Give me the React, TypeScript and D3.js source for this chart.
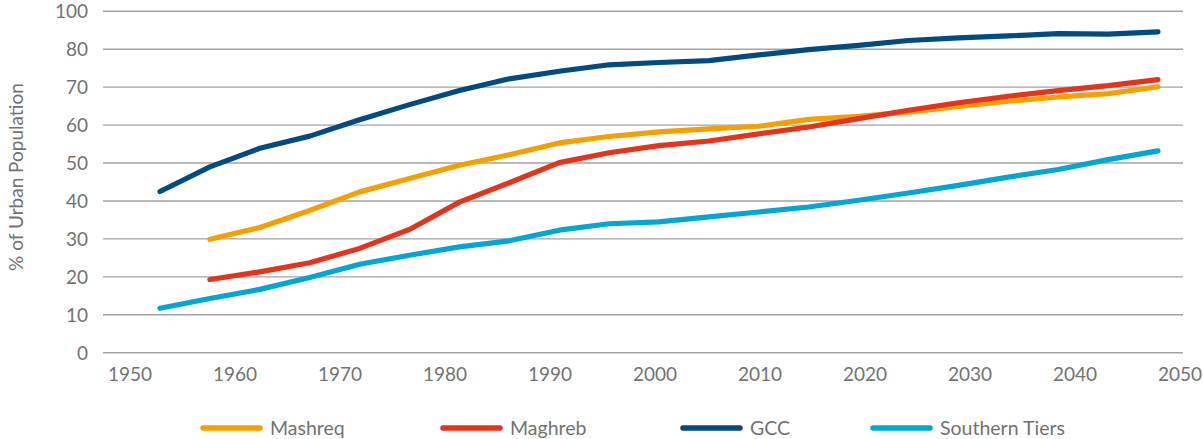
import React, { useEffect, useRef } from "react";
import * as d3 from "d3";

const years = [1950, 1955, 1960, 1965, 1970, 1975, 1980, 1985, 1990, 1995, 2000, 2005, 2010, 2015, 2020, 2025, 2030, 2035, 2040, 2045, 2050];
const mashreq = [null, 29.9, 33.0, 37.5, 42.4, 45.9, 49.4, 52.2, 55.3, 57.0, 58.2, 59.0, 59.7, 61.5, 62.3, 63.4, 64.9, 66.3, 67.4, 68.3, 70.1];
const maghreb = [null, 19.3, 21.3, 23.7, 27.5, 32.5, 39.7, 44.8, 50.1, 52.7, 54.6, 55.8, 57.7, 59.5, 61.7, 63.9, 65.9, 67.6, 69.1, 70.4, 72.0];
const gcc = [42.5, 49.0, 53.9, 57.1, 61.4, 65.4, 69.1, 72.2, 74.2, 75.9, 76.5, 77.0, 78.5, 79.9, 81.0, 82.3, 83.0, 83.5, 84.1, 84.0, 84.6];
const southern = [11.7, 14.3, 16.7, 19.8, 23.3, 25.7, 27.9, 29.5, 32.3, 34.0, 34.5, 35.8, 37.1, 38.4, 40.2, 42.1, 44.1, 46.3, 48.3, 50.9, 53.2];

const xTickYears = [1950, 1960, 1970, 1980, 1990, 2000, 2010, 2020, 2030, 2040, 2050];
const yTickValues = [0, 10, 20, 30, 40, 50, 60, 70, 80, 90];
const yTickLabels = ["0", "10", "20", "30", "40", "50", "60", "70", "80", "100"];

const seriesNames = ["Mashreq", "Maghreb", "GCC", "Southern Tiers"];
const seriesColors = ["#F5A000", "#E6341C", "#004B84", "#00A6D7"];

export default function App() {
  const ref = useRef<SVGSVGElement>(null);

  useEffect(() => {
    const svg = d3.select(ref.current);
    svg.selectAll("*").remove();
    const font = "Lato, 'Open Sans', sans-serif";
    const textColor = "#737373";

    const xData = d3.scaleLinear().domain([1950, 2050]).range([160, 1158]);
    const xLabel = d3.scaleLinear().domain([1950, 2050]).range([130, 1180]);
    const y = d3.scaleLinear().domain([0, 90]).range([352.7, 11.3]);

    svg.append("g")
      .selectAll("line")
      .data(yTickValues)
      .join("line")
      .attr("x1", 103)
      .attr("x2", 1183)
      .attr("y1", (d) => y(d))
      .attr("y2", (d) => y(d))
      .attr("stroke", "#a3a3a3")
      .attr("stroke-width", 1.4);

    svg.append("g")
      .selectAll("text")
      .data(yTickValues)
      .join("text")
      .attr("x", 88)
      .attr("y", (d) => y(d))
      .attr("dy", "0.36em")
      .attr("text-anchor", "end")
      .attr("font-family", font)
      .attr("font-size", 19)
      .attr("fill", textColor)
      .text((d, i) => yTickLabels[i]);

    svg.append("g")
      .selectAll("text")
      .data(xTickYears)
      .join("text")
      .attr("x", (d) => xLabel(d))
      .attr("y", 381)
      .attr("text-anchor", "middle")
      .attr("font-family", font)
      .attr("font-size", 19)
      .attr("fill", textColor)
      .text((d) => String(d));

    svg.append("text")
      .attr("transform", "translate(23,177) rotate(-90)")
      .attr("text-anchor", "middle")
      .attr("font-family", font)
      .attr("font-size", 19)
      .attr("fill", textColor)
      .text("% of Urban Population");

    const allSeries = [mashreq, maghreb, gcc, southern];
    const line = d3.line<[number, number | null]>()
      .defined((d) => d[1] != null)
      .x((d) => xData(d[0]))
      .y((d) => y(d[1] as number));

    allSeries.forEach((vals, i) => {
      const pts = years.map((yr, j) => [yr, vals[j]] as [number, number | null]);
      svg.append("path")
        .attr("d", line(pts) || "")
        .attr("fill", "none")
        .attr("stroke", seriesColors[i])
        .attr("stroke-width", 5.2)
        .attr("stroke-linecap", "round")
        .attr("stroke-linejoin", "round");
    });

    const legendX = [203, 443, 683, 873];
    const lg = svg.append("g");
    seriesNames.forEach((name, i) => {
      lg.append("line")
        .attr("x1", legendX[i])
        .attr("x2", legendX[i] + 57)
        .attr("y1", 428)
        .attr("y2", 428)
        .attr("stroke", seriesColors[i])
        .attr("stroke-width", 5.5)
        .attr("stroke-linecap", "round");
      lg.append("text")
        .attr("x", legendX[i] + 67)
        .attr("y", 428)
        .attr("dy", "0.36em")
        .attr("font-family", font)
        .attr("font-size", 19.5)
        .attr("fill", textColor)
        .text(name);
    });
  }, []);

  return (
    <svg
      ref={ref}
      width={1203}
      height={439}
      style={{ position: "absolute", left: 0, top: 0, background: "#fff" }}
    />
  );
}
